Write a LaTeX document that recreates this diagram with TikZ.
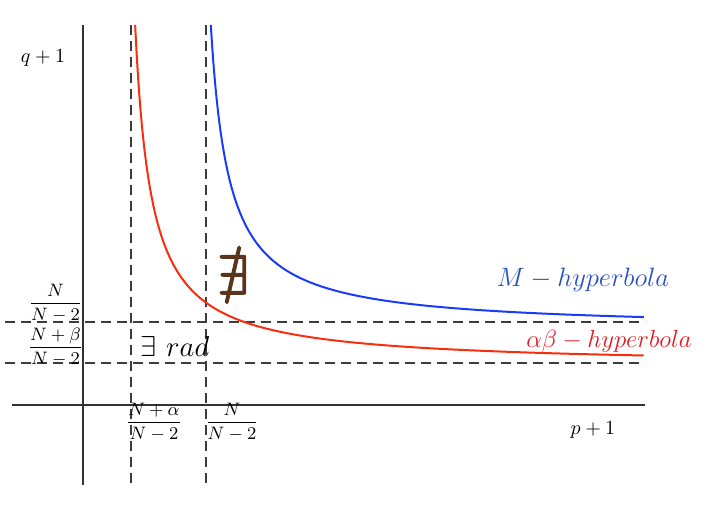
\documentclass[tikz,border=0pt]{standalone}
\usepackage{amsmath,amssymb}
\usepackage{graphicx}
\definecolor{axisgray}{RGB}{50,50,50}
\definecolor{dashgray}{RGB}{60,60,60}
\definecolor{curveblue}{RGB}{25,60,250}
\definecolor{curvered}{RGB}{250,45,15}
\definecolor{textblue}{RGB}{40,80,195}
\definecolor{textred}{RGB}{225,25,35}
\definecolor{brownsym}{RGB}{90,52,28}
\tikzset{
  axisline/.style={axisgray, line width=0.7pt},
  asymline/.style={dashgray, line width=0.6pt, dash pattern=on 5pt off 3pt},
  curveline/.style={line width=1pt},
  lab/.style={inner sep=0pt, font=\normalsize},
  fraclab/.style={inner sep=0pt, font=\small},
}
\begin{document}
\begin{tikzpicture}[x=0.5pt,y=-0.5pt]
\useasboundingbox (0,0) rectangle (709,520);
% axes
\draw[axisline] (83,25) -- (83,485);
\draw[axisline] (12,405) -- (645,405);
% asymptotes
\draw[asymline] (131,25) -- (131,485);
\draw[asymline] (206,25) -- (206,485);
\draw[asymline] (5,322) -- (645,322);
\draw[asymline] (5,363) -- (645,363);
% curves
\draw[curveline, curvered] plot[domain=2.783:6.265, samples=180, variable=\u]
  ({119+exp(\u)}, {366-5515/exp(\u)});
\draw[curveline, curveblue] plot[domain=2.897:6.114, samples=180, variable=\u]
  ({192.7+exp(\u)}, {329.3-5515/exp(\u)});
% labels
\node[lab] (q) at (43,58) {$q+1$};
\node[lab] (p) at (593,430) {$p+1$};
\node[fraclab] (fy1) at (55.5,303) {$\dfrac{N}{N-2}$};
\node[fraclab] (fy2) at (55.5,347) {$\dfrac{N+\beta}{N-2}$};
\node[fraclab] (fx1) at (154,422) {$\dfrac{N+\alpha}{N-2}$};
\node[fraclab] (fx2) at (232,422) {$\dfrac{N}{N-2}$};
\node[lab, font=\Large] (rad) at (175,346) {$\exists\ rad$};
\node[lab, font=\large, textblue] (mh) at (583,280) {\scalebox{1.108}{$M-hyperbola$}};
\node[lab, font=\large, textred] (ah) at (609,341) {\scalebox{1.033}{$\alpha\beta-hyperbola$}};
\node[lab, brownsym] (nex) at (233,275) {\scalebox{2.8}[2.75]{\special{pdf:literal direct 2 Tr 0.3 w}$\nexists$\special{pdf:literal direct 0 Tr}}};
\end{tikzpicture}
\end{document}
